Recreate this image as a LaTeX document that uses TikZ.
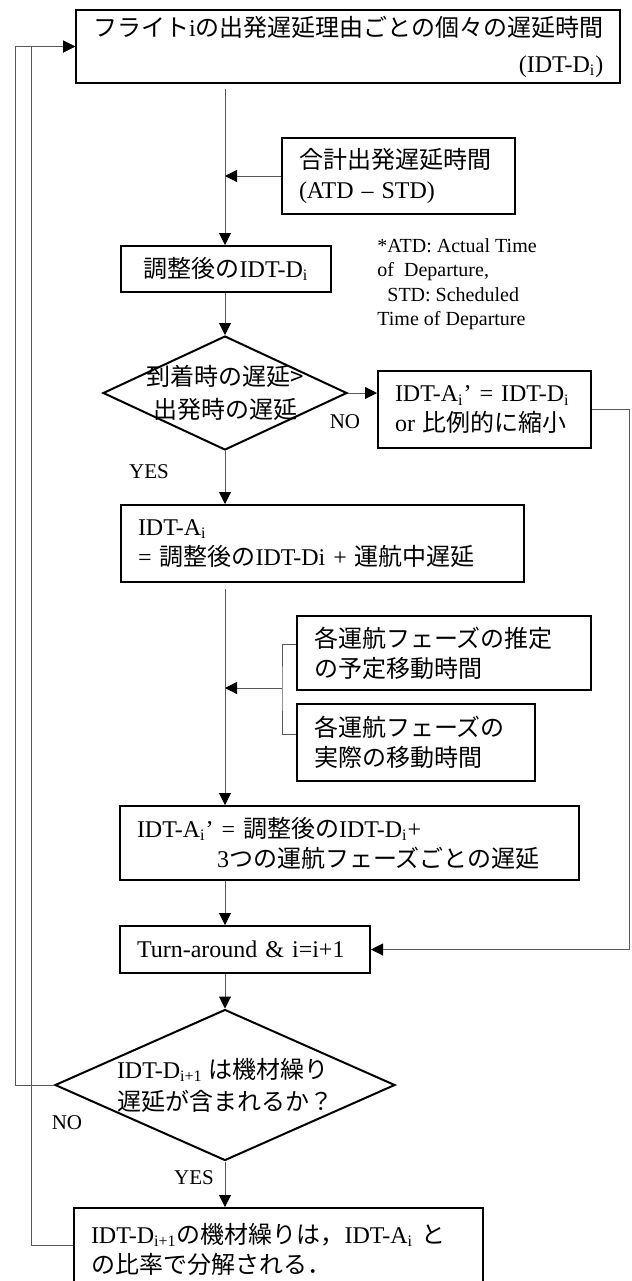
\documentclass[tikz,border=0pt]{standalone}
\usepackage{fontspec}
\setmainfont{Liberation Serif}
\newfontfamily\jpfont{Noto Sans CJK JP}
\newcommand{\jp}[1]{{\jpfont #1}}
\usetikzlibrary{shapes.geometric, arrows.meta}

\begin{document}
\begin{tikzpicture}[
  x=0.5pt, y=-0.5pt,
  box/.style={
    rectangle, draw, line width=1pt,
    inner xsep=8.5pt, inner ysep=2pt,
    font=\fontsize{12}{15}\selectfont
  },
  leftbox/.style={box, align=left, anchor=north west},
  decision/.style={
    diamond, draw, line width=1pt, inner sep=0pt
  },
  dectext/.style={align=center, font=\fontsize{12}{16.5}\selectfont},
  lbl/.style={font=\fontsize{10.5}{12}\selectfont, inner sep=0pt},
  note/.style={align=left, anchor=north west, inner sep=0pt,
    font=\fontsize{10}{12.2}\selectfont},
  line/.style={draw=black!65, line width=0.5pt},
  arrow/.style={line, -{Triangle[length=6pt, width=6pt, color=black]}}
]
  \useasboundingbox (0,0) rectangle (632,1281);

  % Top node
  \node[box, anchor=north west, minimum width=271pt, minimum height=36.5pt,
    align=right, font=\fontsize{12}{18}\selectfont] (flight) at (75,9)
    {\jp{フライト}i\jp{の出発遅延理由ごとの個々の遅延時間}\\(IDT-D\textsubscript{i})};

  % Departure side
  \node[leftbox, text width=99.5pt, minimum height=38pt] (atd) at (281,137)
    {\jp{合計出発遅延時間}\\(ATD – STD)};
  \node[box, anchor=north west, minimum width=105pt, minimum height=23pt] (adj) at (120,245)
    {\jp{調整後の}IDT-D\textsubscript{i}};
  \node[note] (abbr) at (377,238)
    {*ATD: Actual Time\\of\ \ Departure,\\\hspace*{5pt}STD: Scheduled\\Time of Departure};

  % First decision
  \node[decision, minimum width=122pt, minimum height=57pt,
    label={[dectext]center:{\jp{到着時の遅延>}\\\jp{出発時の遅延}}}] (dec1) at (225,393) {};
  \node[leftbox, text width=89.5pt, minimum height=38.5pt] (scale) at (377,370)
    {IDT-A\textsubscript{i}’~=~IDT-D\textsubscript{i}\\or~\jp{比例的に縮小}};
  \node[lbl] (no1) at (345,422) {NO};
  \node[lbl] (yes1) at (149,472) {YES};

  % Arrival side
  \node[leftbox, text width=184.5pt, minimum height=38.5pt] (ia) at (120,504)
    {IDT-A\textsubscript{i}\\= \jp{調整後の}IDT-Di + \jp{運航中遅延}};
  \node[leftbox, text width=130pt, minimum height=37pt] (est) at (296,615)
    {\jp{各運航フェーズの推定}\\\jp{の予定移動時間}};
  \node[leftbox, text width=102pt, minimum height=38.5pt] (act) at (296,703)
    {\jp{各運航フェーズの}\\\jp{実際の移動時間}};
  \node[leftbox, text width=212.5pt, minimum height=37pt] (iap) at (119,805)
    {IDT-A\textsubscript{i}’ = \jp{調整後の}IDT-D\textsubscript{i}+\\\hspace*{40pt}3\jp{つの運航フェーズごとの遅延}};
  \node[leftbox, text width=108pt, minimum height=23.5pt] (turn) at (119,925)
    {Turn-around \& i=i+1};

  % Second decision
  \node[decision, minimum width=170pt, minimum height=75.5pt,
    label={[dectext, align=left, font=\fontsize{12}{16}\selectfont]center:{IDT-D\textsubscript{i+1} \jp{は機材繰り}\\\jp{遅延が含まれるか？}}}] (dec2) at (225,1085) {};
  \node[lbl] (no2) at (67,1123) {NO};
  \node[lbl] (yes2) at (194,1178) {YES};
  \node[leftbox, text width=187.5pt, minimum height=41pt] (final) at (73,1207)
    {IDT-D\textsubscript{i+1}\jp{の機材繰りは，}IDT-A\textsubscript{i} \jp{と}\\\jp{の比率で分解される．}};

  % Helper coordinates
  \coordinate (spine) at (225,0);
  \coordinate (rx) at (629,0);
  \coordinate (lx1) at (15,0);
  \coordinate (lx2) at (31,0);
  \coordinate (brk) at (282,688);

  % Arrows
  \draw[arrow, shorten <=2.5pt] (flight.south -| spine) -- (adj.north -| spine);
  \draw[arrow] (atd.west) -- (atd.west -| spine);
  \draw[arrow] (adj.south -| spine) -- (dec1.north);
  \draw[arrow] (dec1.east) -- (dec1.east -| scale.west);
  \draw[arrow] (dec1.south) -- (dec1.south |- ia.north);
  \draw[arrow, shorten <=3pt] (ia.south -| spine) -- (iap.north -| spine);
  \draw[line] ([yshift=4.5pt]est.west) -| (brk) |- ([yshift=4.25pt]act.west);
  \draw[arrow] (brk) -- (brk -| spine);
  \draw[arrow] (iap.south -| spine) -- (turn.north -| spine);
  \draw[arrow] (scale.east) -- (scale.east -| rx) |- (turn.east);
  \draw[arrow] (turn.south -| spine) -- (dec2.north);
  \draw[arrow] (dec2.south) -- (dec2.south |- final.north);
  \draw[arrow] (dec2.west) -- (dec2.west -| lx1) |- (flight.west);
  \draw[arrow] ([yshift=2pt]final.west) -- ([yshift=2pt]final.west -| lx2) |- (flight.west);
\end{tikzpicture}
\end{document}
